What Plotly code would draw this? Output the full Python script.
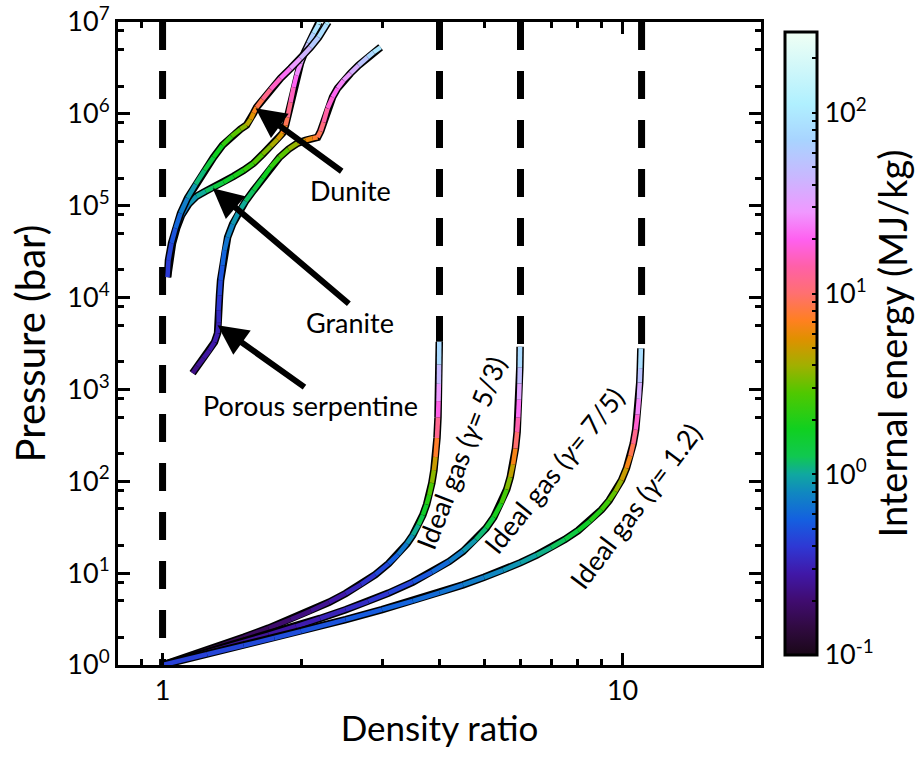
import numpy as np
import plotly.graph_objects as go
from plotly.colors import sample_colorscale

# ---------------- data ----------------
# Ideal gas, gamma = 5/3
gas53_density = [1.0, 1.1, 1.2, 1.35, 1.5, 1.7, 1.9, 2.1, 2.3, 2.5, 2.7, 2.9, 3.1, 3.25, 3.4, 3.5, 3.6,
                 3.68, 3.75, 3.8, 3.85, 3.89, 3.92, 3.95, 3.97, 3.98, 3.987, 3.992, 3.9955]
gas53_pressure = [1.0, 1.17, 1.36, 1.66, 2.0, 2.52, 3.14, 3.89, 4.82, 6.0, 7.54, 9.64, 12.7, 16.0, 21.0, 26.0,
                  33.5, 42.9, 56.0, 71.0, 96.0, 132.0, 184.0, 296.0, 496.0, 746.0, 1150.0, 1871.0, 3300.0]
gas53_energy = [0.125, 0.133, 0.141, 0.154, 0.167, 0.185, 0.207, 0.232, 0.262, 0.30, 0.349, 0.416, 0.512, 0.616,
                0.773, 0.93, 1.16, 1.46, 1.87, 2.34, 3.12, 4.25, 5.87, 9.4, 15.6, 23.4, 36.1, 58.6, 104.0]

# Ideal gas, gamma = 7/5
gas75_density = [1.0, 1.15, 1.3, 1.5, 1.7, 1.95, 2.2, 2.5, 2.8, 3.1, 3.5, 3.85, 4.2, 4.5, 4.8, 5.05, 5.25,
                 5.45, 5.6, 5.7, 5.78, 5.85, 5.9, 5.93, 5.955, 5.97, 5.98, 5.988]
gas75_pressure = [1.0, 1.22, 1.45, 1.78, 2.14, 2.64, 3.21, 4.0, 4.94, 6.07, 8.0, 10.3, 13.4, 17.3, 23.2, 30.8,
                  40.7, 57.6, 81.5, 111.0, 153.0, 227.0, 344.0, 494.0, 772.0, 1161.0, 1744.0, 2910.0]
gas75_energy = [0.21, 0.222, 0.234, 0.249, 0.264, 0.284, 0.306, 0.335, 0.37, 0.41, 0.48, 0.56, 0.67, 0.80, 1.01,
                1.27, 1.62, 2.21, 3.04, 4.06, 5.52, 8.1, 12.2, 17.4, 27.0, 40.5, 60.8, 101.0]

# Ideal gas, gamma = 1.2
gas12_density = [1.0, 1.25, 1.5, 1.75, 2.0, 2.5, 3.0, 3.5, 4.0, 4.5, 5.0, 5.5, 6.0, 6.5, 7.0, 7.5, 8.0, 8.5,
                 9.0, 9.35, 9.65, 9.95, 10.2, 10.4, 10.55, 10.68, 10.78, 10.85, 10.9, 10.93, 10.96]
gas12_pressure = [1.0, 1.31, 1.63, 1.97, 2.33, 3.12, 4.0, 5.0, 6.14, 7.46, 9.0, 10.8, 13.0, 15.7, 19.0, 23.3,
                  29.0, 37.0, 49.0, 61.7, 77.9, 103.0, 139.0, 189.0, 256.0, 364.0, 534.0, 789.0, 1189.0,
                  1703.0, 2800.0]
gas12_energy = [0.42, 0.439, 0.457, 0.473, 0.49, 0.523, 0.56, 0.60, 0.64, 0.69, 0.75, 0.82, 0.91, 1.01, 1.13,
                1.30, 1.51, 1.82, 2.27, 2.75, 3.37, 4.32, 5.69, 7.58, 10.1, 14.2, 20.7, 30.3, 45.5, 65.0, 110.0]

# Dunite Hugoniot
dunite_density = [1.025, 1.030, 1.046, 1.067, 1.094, 1.133, 1.180, 1.234, 1.291, 1.350, 1.413, 1.477, 1.522,
                  1.554, 1.577, 1.601, 1.650, 1.718, 1.805, 1.898, 1.995, 2.098, 2.184, 2.273, 2.29]
dunite_pressure = [1.67e4, 2.55e4, 3.91e4, 5.69e4, 8.28e4, 1.21e5, 1.71e5, 2.43e5, 3.37e5, 4.55e5, 5.70e5,
                   6.80e5, 7.52e5, 8.73e5, 1.02e6, 1.18e6, 1.44e6, 1.85e6, 2.44e6, 3.13e6, 4.03e6, 5.31e6,
                   6.82e6, 9.44e6, 1.0e7]
dunite_energy = [0.40, 0.42, 0.47, 0.55, 0.65, 0.8, 1.0, 1.25, 1.6, 2.0, 2.6, 3.3, 4.0, 5.0, 6.2, 7.5, 10.0,
                 14.0, 19.0, 25.0, 35.0, 50.0, 70.0, 100.0, 115.0]

# Granite Hugoniot
granite_density = [1.025, 1.036, 1.051, 1.073, 1.100, 1.139, 1.186, 1.240, 1.291, 1.357, 1.427, 1.500, 1.577,
                   1.650, 1.718, 1.778, 1.823, 1.851, 1.869, 1.898, 1.927, 1.956, 1.995, 2.036, 2.077, 2.130,
                   2.184, 2.19]
granite_pressure = [1.67e4, 2.68e4, 3.91e4, 5.69e4, 7.88e4, 1.04e5, 1.27e5, 1.44e5, 1.59e5, 1.80e5, 2.09e5,
                    2.43e5, 2.90e5, 3.63e5, 4.44e5, 5.29e5, 6.15e5, 7.52e5, 9.18e5, 1.34e6, 1.95e6, 2.63e6,
                    3.56e6, 4.68e6, 5.86e6, 7.54e6, 9.44e6, 1.0e7]
granite_energy = [0.40, 0.43, 0.48, 0.56, 0.66, 0.8, 0.95, 1.1, 1.3, 1.5, 1.8, 2.1, 2.6, 3.1, 3.8, 4.6, 6.0,
                  8.0, 10.0, 14.0, 18.0, 23.0, 30.0, 40.0, 55.0, 75.0, 110.0, 125.0]

# Porous serpentine Hugoniot
serp_density = [1.162, 1.191, 1.228, 1.265, 1.297, 1.317, 1.324, 1.324, 1.330, 1.337, 1.350, 1.364, 1.385,
                1.420, 1.463, 1.515, 1.577, 1.650, 1.718, 1.796, 1.879, 1.966, 2.046, 2.119, 2.173, 2.206,
                2.239, 2.284, 2.342, 2.402, 2.475, 2.563, 2.668, 2.791, 2.876, 2.979]
serp_pressure = [1504, 1793, 2192, 2677, 3273, 4100, 5400, 7295, 1.06e4, 1.55e4, 2.25e4, 3.28e4, 4.54e4,
                 6.29e4, 8.49e4, 1.12e5, 1.47e5, 1.99e5, 2.62e5, 3.37e5, 4.12e5, 4.79e5, 5.16e5, 5.42e5,
                 5.56e5, 6.47e5, 8.10e5, 1.15e6, 1.52e6, 1.90e6, 2.32e6, 2.77e6, 3.38e6, 4.13e6, 4.68e6, 5.31e6]
serp_energy = [0.22, 0.24, 0.26, 0.28, 0.29, 0.30, 0.32, 0.36, 0.42, 0.48, 0.55, 0.63, 0.72, 0.82, 0.95, 1.1,
               1.3, 1.6, 2.0, 2.6, 3.3, 4.3, 5.5, 6.8, 8.0, 10.0, 12.0, 16.0, 19.0, 22.0, 27.0, 33.0, 45.0,
               65.0, 85.0, 110.0]

# Asymptotic compression limits (dashed lines)
limit_density = [1.0, 4.0, 6.0, 11.0]
limit_bottom_pressure = [1.0, 3300.0, 2910.0, 2800.0]

# Text labels
rock_labels = ["Dunite", "Granite", "Porous serpentine"]
rock_label_pos = [(2.56, 1.47e5), (2.56, 5.4e3), (2.10, 675.0)]
arrow_tips = [(1.593, 1.15e6), (1.285, 1.55e5), (1.317, 5.0e3)]
arrow_tails = [(2.47, 2.31e5), (2.56, 8.3e3), (2.05, 1.03e3)]

gas_labels = ["Ideal gas (<i>γ</i>= 5/3)", "Ideal gas (<i>γ</i>= 7/5)", "Ideal gas (<i>γ</i>= 1.2)"]
gas_label_pos = [(4.44, 203.0), (7.08, 132.0), (10.67, 55.0)]
gas_label_angle = [-69, -51, -53]

energy_min, energy_max = 0.1, 280.0

# ---------------- colour scale ----------------
cs_logE = [-1.0, -0.85, -0.7, -0.55, -0.4, -0.25, -0.1, 0.0, 0.1, 0.25, 0.45, 0.6, 0.75, 0.85,
           1.0, 1.15, 1.3, 1.45, 1.65, 1.85, 2.05, np.log10(energy_max)]
cs_colors = ["#1a0818", "#300a40", "#400c70", "#4018a8", "#2e38d4", "#1460e0", "#1088c0", "#10a8a0",
             "#10c850", "#10d020", "#50c800", "#a0b000", "#e09000", "#ff8020", "#ff7070", "#ff60a8",
             "#ff60f0", "#f098ff", "#c8b8ff", "#a8d4ff", "#b0f0ff", "#f0fff4"]
lo, hi = np.log10(energy_min), np.log10(energy_max)
colorscale = [[(v - lo) / (hi - lo), c] for v, c in zip(cs_logE, cs_colors)]


def color_of(e):
    t = (np.log10(e) - lo) / (hi - lo)
    t = min(max(t, 0.0), 1.0)
    return sample_colorscale(colorscale, [t])[0]


FONT = "Lato"
fig = go.Figure()

# dashed compression limits
for xd, pb in zip(limit_density, limit_bottom_pressure):
    fig.add_trace(go.Scatter(x=[xd, xd], y=[1.0e7, pb], mode="lines",
                             line=dict(color="black", width=7, dash="28px,21px"),
                             showlegend=False, hoverinfo="skip"))

curves = [
    (gas53_density, gas53_pressure, gas53_energy),
    (gas75_density, gas75_pressure, gas75_energy),
    (gas12_density, gas12_pressure, gas12_energy),
    (serp_density, serp_pressure, serp_energy),
    (granite_density, granite_pressure, granite_energy),
    (dunite_density, dunite_pressure, dunite_energy),
]

for xs, ps, es in curves:
    fig.add_trace(go.Scatter(x=xs, y=ps, mode="lines",
                             line=dict(color="black", width=7.5),
                             showlegend=False, hoverinfo="skip"))
    for i in range(len(xs) - 1):
        emid = np.sqrt(es[i] * es[i + 1])
        fig.add_trace(go.Scatter(x=xs[i:i + 2], y=ps[i:i + 2], mode="lines",
                                 line=dict(color=color_of(emid), width=4.5),
                                 showlegend=False, hoverinfo="skip"))

# colour bar holder
minor_vals = []
for d in [-1, 0, 1]:
    for m in range(2, 10):
        minor_vals.append(d + np.log10(m))
minor_vals.append(2 + np.log10(2))
cb_tickvals = [-1, 0, 1, 2] + minor_vals
cb_ticktext = ["10<sup>-1</sup>", "10<sup>0</sup>", "10<sup>1</sup>", "10<sup>2</sup>"] + [""] * len(minor_vals)

fig.add_trace(go.Scatter(
    x=[1.0], y=[1.0], mode="markers",
    marker=dict(size=0.1, color=[0.0], colorscale=colorscale, cmin=lo, cmax=hi,
                showscale=True,
                colorbar=dict(x=1.022, xanchor="left", y=0.5, yanchor="middle", len=1.0,
                              lenmode="fraction", thickness=32, outlinewidth=3, outlinecolor="black",
                              tickmode="array", tickvals=cb_tickvals, ticktext=cb_ticktext,
                              ticks="inside", ticklen=6, tickwidth=2, tickcolor="black",
                              tickfont=dict(family=FONT, size=27, color="black"),
                              title=dict(text="Internal energy (MJ/kg)", side="right",
                                         font=dict(family=FONT, size=38, color="black")))),
    showlegend=False, hoverinfo="skip"))

annotations = []
for (tx, ty), (ax_, ay_) in zip(arrow_tips, arrow_tails):
    annotations.append(dict(x=np.log10(tx), y=np.log10(ty), ax=np.log10(ax_), ay=np.log10(ay_),
                            xref="x", yref="y", axref="x", ayref="y", text="", showarrow=True,
                            arrowhead=2, arrowsize=1.0, arrowwidth=6, arrowcolor="black", standoff=0))
for txt, (lx, ly) in zip(rock_labels, rock_label_pos):
    annotations.append(dict(x=np.log10(lx), y=np.log10(ly), xref="x", yref="y", text=txt,
                            showarrow=False, font=dict(family=FONT, size=27, color="black")))
for txt, (lx, ly), ang in zip(gas_labels, gas_label_pos, gas_label_angle):
    annotations.append(dict(x=np.log10(lx), y=np.log10(ly), xref="x", yref="y", text=txt,
                            showarrow=False, textangle=ang,
                            font=dict(family=FONT, size=27, color="black")))

y_major = [10.0 ** k for k in range(8)]
y_major_text = ["10<sup>%d</sup>" % k for k in range(8)]
y_minor = [m * 10.0 ** k for k in range(7) for m in (2, 5, 8)]

fig.update_layout(
    width=915, height=758,
    margin=dict(l=118, r=154, t=22, b=93, autoexpand=False),
    paper_bgcolor="white", plot_bgcolor="white",
    font=dict(family=FONT, color="black"),
    annotations=annotations,
    xaxis=dict(type="log", range=[np.log10(0.8), np.log10(20)],
               tickmode="array", tickvals=[1, 10], ticktext=["1", "10"],
               ticks="inside", ticklen=12, tickwidth=3, tickcolor="black",
               showline=True, linewidth=3, linecolor="black", mirror="ticks",
               showgrid=False, zeroline=False,
               tickfont=dict(family=FONT, size=27),
               minor=dict(tickmode="array", tickvals=[0.9, 2, 3, 4, 5, 6, 7, 8, 9],
                          ticks="inside", ticklen=6, tickwidth=2.5, tickcolor="black", showgrid=False),
               title=dict(text="Density ratio", font=dict(family=FONT, size=35), standoff=12)),
    yaxis=dict(type="log", range=[0, 7],
               tickmode="array", tickvals=y_major, ticktext=y_major_text,
               ticks="inside", ticklen=12, tickwidth=3, tickcolor="black",
               showline=True, linewidth=3, linecolor="black", mirror="ticks",
               showgrid=False, zeroline=False, ticklabeloverflow="allow",
               tickfont=dict(family=FONT, size=27),
               minor=dict(tickmode="array", tickvals=y_minor,
                          ticks="inside", ticklen=6, tickwidth=2.5, tickcolor="black", showgrid=False),
               title=dict(text="Pressure (bar)", font=dict(family=FONT, size=40), standoff=10)),
)

# remove the default 8 px page margin so the figure sits at the window's top-left corner
fig.write_html("out.html", config={"displayModeBar": False},
               post_script="document.body.style.margin='0px';")
